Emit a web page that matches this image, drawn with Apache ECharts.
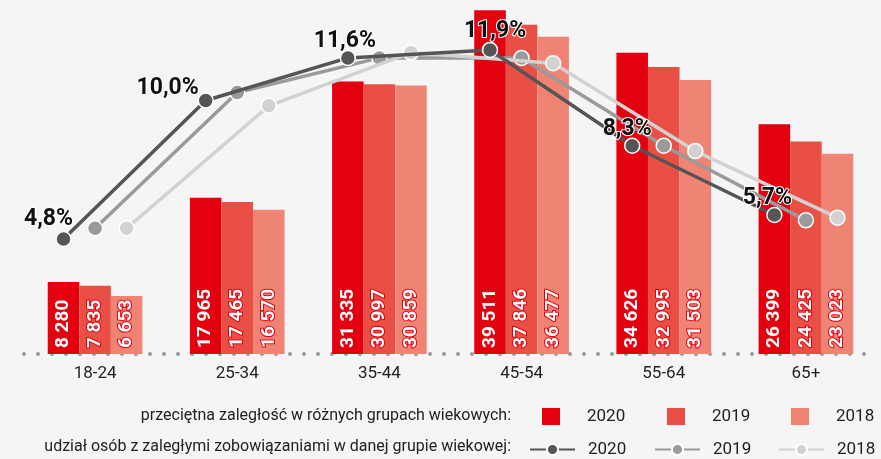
<!DOCTYPE html>
<html>
<head>
<meta charset="utf-8">
<script src="https://cdn.jsdelivr.net/npm/echarts@6/dist/echarts.min.js"></script>
<style>
  html, body { margin: 0; padding: 0; background: #f5f5f5; }
  #main { width: 881px; height: 459px; }
</style>
</head>
<body>
<div id="main"></div>
<script>
  // dane
  var categories = ['18-24', '25-34', '35-44', '45-54', '55-64', '65+'];
  var years = ['2020', '2019', '2018'];
  var debt2020 = [8280, 17965, 31335, 39511, 34626, 26399];
  var debt2019 = [7835, 17465, 30997, 37846, 32995, 24425];
  var debt2018 = [6653, 16570, 30859, 36477, 31503, 23023];
  var share2020 = [4.8, 10.0, 11.6, 11.9, 8.3, 5.7];
  var share2019 = [5.2, 10.3, 11.6, 11.6, 8.3, 5.5];
  var share2018 = [5.2, 9.8, 11.8, 11.4, 8.1, 5.6];
  var legendBarTitle = 'przeciętna zaległość w różnych grupach wiekowych:';
  var legendLineTitle = 'udział osób z zaległymi zobowiązaniami w danej grupie wiekowej:';

  var FONT = "Roboto, 'Liberation Sans', sans-serif";
  var barColors = ['#e3000f', '#e94f45', '#f08474'];
  var lineColors = ['#555555', '#9a9a9a', '#d2d2d2'];
  var BAR_FRAC = 0.222; // szerokosc slupka jako czesc kategorii

  var debts = [debt2020, debt2019, debt2018];
  var shares = [share2020, share2019, share2018];

  function thousands(v) {
    return String(v).replace(/\B(?=(\d{3})+(?!\d))/g, ' ');
  }

  var series = [];
  // slupki
  years.forEach(function (y, k) {
    series.push({
      name: y,
      type: 'bar',
      barWidth: (BAR_FRAC * 100) + '%',
      barGap: '0%',
      itemStyle: { color: barColors[k] },
      label: {
        show: true,
        position: 'insideBottom',
        rotate: 90,
        align: 'left',
        verticalAlign: 'middle',
        distance: 6,
        color: '#fff',
        fontFamily: FONT,
        fontWeight: 'bold',
        fontSize: 19,
        textBorderColor: '#e3000f',
        textBorderWidth: 2,
        formatter: function (p) { return thousands(p.value); }
      },
      data: debts[k]
    });
  });

  // linie - punkty nad slupkami danego roku, etykiety tylko dla 2020
  var pctOffsets = [[-15, 5], [-38, 12], [-3, 8], [5, 6], [-5, 8], [-7, 8]];
  var lineZ = [6, 4, 5];
  years.forEach(function (y, k) {
    var dx = (k - 1) * BAR_FRAC;
    series.push({
      name: 'udzial ' + y,
      type: 'line',
      xAxisIndex: 1,
      yAxisIndex: 1,
      symbol: 'circle',
      symbolSize: 15,
      z: lineZ[k],
      lineStyle: { color: lineColors[k], width: 3.5 },
      itemStyle: { color: lineColors[k], borderColor: '#fff', borderWidth: 1.5 },
      label: {
        show: k === 0,
        position: 'top',
        fontFamily: FONT,
        fontWeight: 'bold',
        fontSize: 23,
        color: '#111',
        textBorderColor: '#fff',
        textBorderWidth: 2,
        formatter: function (p) { return p.value[1].toFixed(1).replace('.', ',') + '%'; }
      },
      data: shares[k].map(function (v, i) {
        var item = { value: [i + dx, v] };
        if (k === 0) item.label = { offset: pctOffsets[i] };
        return item;
      })
    });
  });

  // legendy - kazda pozycja osobno
  var legendLeft = [542, 667, 791];
  var legends = [];
  years.forEach(function (y, k) {
    legends.push({
      data: [y],
      left: legendLeft[k],
      top: 408,
      padding: 0,
      icon: 'rect',
      itemWidth: 18,
      itemHeight: 17,
      textStyle: { fontFamily: FONT, fontSize: 17, color: '#222', padding: [0, 0, 0, 22] }
    });
    legends.push({
      data: ['udzial ' + y],
      left: legendLeft[k] - 13,
      top: 441,
      padding: 0,
      itemWidth: 45,
      itemHeight: 14,
      formatter: function (n) { return n.slice(-4); },
      textStyle: { fontFamily: FONT, fontSize: 17, color: '#222', padding: [0, 0, 0, 8] }
    });
  });

  var option = {
    backgroundColor: '#f5f5f5',
    animation: false,
    grid: { left: 24, right: 4, top: 6, bottom: 105 },
    legend: legends,
    xAxis: [
      {
        type: 'category',
        data: categories,
        offset: 2,
        axisLine: { lineStyle: { color: '#999', width: 4, type: [0, 14], cap: 'round' } },
        axisTick: { show: false },
        axisLabel: { fontFamily: FONT, fontSize: 17, color: '#222', margin: 9 }
      },
      { type: 'value', min: -0.5, max: 5.5, show: false }
    ],
    yAxis: [
      { type: 'value', min: 0, max: 40000, show: false, splitLine: { show: false } },
      { type: 'value', min: 0.48, max: 13.55, show: false, splitLine: { show: false } }
    ],
    graphic: [
      {
        type: 'text', right: 881 - 511, top: 408,
        style: { text: legendBarTitle, font: '16px ' + FONT, fill: '#222', textAlign: 'right' }
      },
      {
        type: 'text', right: 881 - 511, top: 439,
        style: { text: legendLineTitle, font: '16px ' + FONT, fill: '#222', textAlign: 'right' }
      }
    ],
    series: series
  };

  var chart = echarts.init(document.getElementById('main'));
  chart.setOption(option);
</script>
</body>
</html>
